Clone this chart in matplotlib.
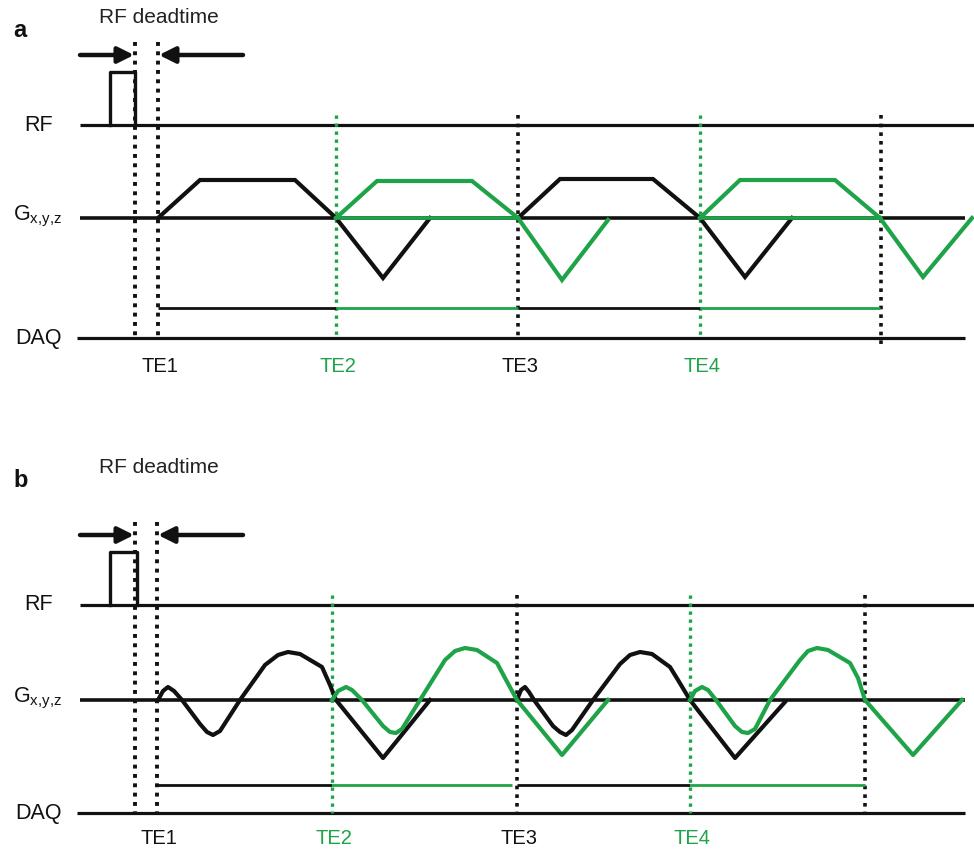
import numpy as np
from matplotlib import pyplot as plt

plt.rcParams['font.family'] = ['Liberation Sans', 'DejaVu Sans']
plt.rcParams['mathtext.fontset'] = 'custom'
plt.rcParams['mathtext.rm'] = 'Liberation Sans'

BLACK = "#111111"
GREEN = "#1fa349"

# Row levels of each panel (vertical position of each line, top -> bottom)
panels = ["a", "b"]
titleY = [30, 480]
arrowY = [55, 535]
rfY = [125, 605]
gY = [218, 700]
daqBarY = [308, 785]
daqY = [338, 813]
teLabelY = [366, 838]

# RF pulse and deadtime
rfPulseX = [[110, 135], [110, 137]]
rfPulseH = [53, 53]
deadX = [135, 135]

# Echo times (TE1 .. TE4 and end of last readout)
teX = [[158, 336, 518, 700, 881], [157, 332, 517, 690, 865]]
teNames = ["TE1", "TE2", "TE3", "TE4"]
teColors = [BLACK, GREEN, BLACK, GREEN, BLACK]

# Gradient waveforms, x and offset from the gradient baseline (negative = up)
# panel a: trapezoids + triangles
aBlackX = [[158, 200, 295, 336], [336, 383, 430],
           [518, 560, 653, 700], [700, 745, 792]]
aBlackY = [[0, -38, -38, 0], [0, 60, 0],
           [0, -39, -39, 0], [0, 59, 0]]
aGreenX = [[336, 377, 472, 518], [518, 562, 608],
           [700, 740, 835, 880], [880, 923, 972]]
aGreenY = [[0, -37, -37, 0], [0, 62, 2],
           [0, -38, -38, 0], [0, 59, 0]]

# panel b: spiral-like waveforms
bBlackX = [[158, 163, 168, 174, 182, 200, 207, 213, 220, 240, 265, 278, 288,
            300, 322, 330, 336, 383, 430],
           [517, 521, 525, 529, 534, 553, 560, 566, 572, 593, 620, 630, 640,
            652, 670, 678, 690, 735, 785]]
bBlackY = [[0, -9, -13, -9, 0, 24, 32, 35, 31, 0, -35, -45, -48,
            -46, -33, -15, 0, 58, 0],
           [0, -10, -13, -8, 0, 26, 32, 35, 30, 0, -36, -45, -48,
            -46, -33, -20, 0, 58, 2]]
bGreenX = [[332, 338, 346, 352, 362, 383, 390, 396, 402, 420, 445, 455, 465,
            477, 497, 505, 517, 562, 608],
           [690, 695, 702, 708, 716, 735, 742, 748, 755, 770, 800, 808, 817,
            828, 850, 858, 865, 913, 962]]
bGreenY = [[0, -9, -13, -10, 0, 26, 32, 33, 29, 0, -40, -49, -52,
            -50, -37, -22, 0, 55, 0],
           [0, -9, -13, -10, 0, 26, 32, 33, 29, 0, -40, -49, -52,
            -50, -37, -22, 0, 55, 0]]

# DAQ readout windows (start, end, colour)
daqWin = [[(158, 336, BLACK), (336, 518, GREEN), (518, 700, BLACK), (700, 880, GREEN)],
          [(157, 332, BLACK), (332, 512, GREEN), (517, 690, BLACK), (690, 865, GREEN)]]

fig = plt.figure(figsize=(9.74, 8.49), dpi=100)
ax = fig.add_axes([0, 0, 1, 1])
ax.set_xlim(0, 974)
ax.set_ylim(849, 0)
ax.axis("off")

dots = (0, (1, 1.4))

for p in range(2):
    # Panel letter and deadtime label
    ax.text(13, titleY[p], panels[p], fontsize=17, fontweight="bold",
            va="center", ha="left", color=BLACK)
    ax.text(99, titleY[p] - 13, "RF deadtime", fontsize=15, va="center",
            ha="left", color="#222222")

    # Row labels
    ax.text(24, rfY[p], "RF", fontsize=15.5, va="center", ha="left", color=BLACK)
    ax.text(13, gY[p] - 2, r"G$_\mathrm{x{,}y{,}z}$", fontsize=15.5, va="center",
            ha="left", color=BLACK)
    ax.text(15, daqY[p], "DAQ", fontsize=15.5, va="center", ha="left", color=BLACK)

    # Baselines
    ax.plot([80, 974], [rfY[p], rfY[p]], color=BLACK, lw=2.3, solid_capstyle="butt")
    ax.plot([80, 965], [gY[p], gY[p]], color=BLACK, lw=2.6, solid_capstyle="butt")
    ax.plot([77, 965], [daqY[p], daqY[p]], color=BLACK, lw=2.3, solid_capstyle="butt")

    # RF pulse
    x0, x1 = rfPulseX[p]
    top = rfY[p] - rfPulseH[p]
    ax.plot([x0, x0, x1, x1], [rfY[p], top, top, rfY[p]], color=BLACK, lw=2.4)

    # Deadtime arrows
    ax.annotate("", xy=(deadX[p] - 1, arrowY[p]), xytext=(80, arrowY[p]),
                arrowprops=dict(arrowstyle="-|>", lw=3.2, color=BLACK,
                                mutation_scale=24, shrinkA=0, shrinkB=0))
    ax.annotate("", xy=(teX[p][0] + 1, arrowY[p]), xytext=(243, arrowY[p]),
                arrowprops=dict(arrowstyle="-|>", lw=3.2, color=BLACK,
                                mutation_scale=24, shrinkA=0, shrinkB=0))

    # Dotted timing lines
    ax.plot([deadX[p], deadX[p]], [arrowY[p] - 13, daqY[p]], color=BLACK,
            lw=2.8, linestyle=dots)
    ax.plot([teX[p][0], teX[p][0]], [arrowY[p] - 13, daqY[p]], color=BLACK,
            lw=2.8, linestyle=dots)
    for k in range(1, 5):
        col = teColors[k]
        yEnd = daqY[p] + (10 if (p == 0 and k == 4) else 0)
        ax.plot([teX[p][k], teX[p][k]], [rfY[p] - 10, yEnd], color=col,
                lw=2.6 if col == BLACK else 2.4, linestyle=dots)

    # TE labels
    for k in range(4):
        ax.text(teX[p][k] + 2, teLabelY[p], teNames[k], fontsize=14.5,
                va="center", ha="center", color=teColors[k])

    # DAQ readout windows
    for s, e, col in daqWin[p]:
        ax.plot([s, e], [daqBarY[p], daqBarY[p]], color=col, lw=2.0,
                solid_capstyle="butt")

# Gradient waveforms panel a
for xs, ys in zip(aBlackX, aBlackY):
    ax.plot(xs, np.array(ys) + gY[0], color=BLACK, lw=3.0, solid_joinstyle="miter")
# green part of the baseline under the green trapezoids
ax.plot([336, 518], [gY[0], gY[0]], color=GREEN, lw=2.6)
ax.plot([700, 880], [gY[0], gY[0]], color=GREEN, lw=2.6)
for xs, ys in zip(aGreenX, aGreenY):
    ax.plot(xs, np.array(ys) + gY[0], color=GREEN, lw=3.0, solid_joinstyle="miter")

# Gradient waveforms panel b
for xs, ys in zip(bBlackX, bBlackY):
    ax.plot(xs, np.array(ys) + gY[1], color=BLACK, lw=3.0)
for xs, ys in zip(bGreenX, bGreenY):
    ax.plot(xs, np.array(ys) + gY[1], color=GREEN, lw=3.0)

plt.savefig("out.png", dpi=100)
